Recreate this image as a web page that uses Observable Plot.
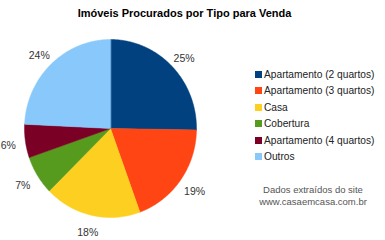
<!DOCTYPE html>
<html><head><meta charset="utf-8">
<script src="https://cdn.jsdelivr.net/npm/d3@7"></script>
<script src="https://cdn.jsdelivr.net/npm/@observablehq/plot@0.6"></script>
<style>
body{margin:0;background:#fff;font-family:"Liberation Sans",Arial,sans-serif;}
#wrap{position:relative;width:385px;height:240px;overflow:hidden;}
#title{height:26px;line-height:26px;text-align:center;font-weight:bold;font-size:11px;color:#000;padding-right:16px;}
.leg{position:absolute;left:255px;font-size:10.2px;color:#222;white-space:nowrap;}
.leg span{display:inline-block;width:7px;height:7px;margin-right:2px;vertical-align:0px;}
#cap{position:absolute;left:243px;width:140px;top:184px;text-align:center;font-size:9.5px;color:#555;line-height:12px;}
</style></head>
<body><div id="wrap"><div id="title">Imóveis Procurados por Tipo para Venda</div><div id="chart"></div></div>
<script>
const categories = ["Apartamento (2 quartos)","Apartamento (3 quartos)","Casa","Cobertura","Apartamento (4 quartos)","Outros"];
const percents = [25, 19, 18, 7, 6, 24];
const colors = ["#02417f","#ff4513","#fdcf21","#569a1e","#7b0025","#88c8fb"];
const captionLines = ["Dados extraídos do site","www.casaemcasa.com.br"];

const table = categories.map((name,i)=>({name, value: percents[i]}));
const arcs = d3.pie().sort(null).value(d=>d.value)(table);
const poly = [];
const labels = [];
arcs.forEach(a=>{
  poly.push({name:a.data.name, x:0, y:0});
  const n = Math.max(2, Math.ceil((a.endAngle-a.startAngle)/0.01));
  for(let k=0;k<=n;k++){
    const t = a.startAngle + (a.endAngle-a.startAngle)*k/n;
    poly.push({name:a.data.name, x:Math.sin(t), y:-Math.cos(t)});
  }
  const m = (a.startAngle+a.endAngle)/2;
  labels.push({name:a.data.name, x:1.2*Math.sin(m), y:-1.17*Math.cos(m)+0.03, text:a.data.value+"%"});
});

const cx = 110, cy = 102, rx = 86, ry = 89;
const chart = Plot.plot({
  width: 385, height: 214,
  margin: 0,
  x: {domain:[-1,1], range:[cx-rx, cx+rx], axis:null},
  y: {domain:[-1,1], range:[cy-ry, cy+ry], axis:null},
  color: {type:"ordinal", domain: categories, range: colors},
  marks: [
    Plot.line(poly, {x:"x", y:"y", z:"name", fill:"name", stroke:"name", strokeWidth:0.5, curve:"linear-closed"}),
    Plot.text(labels, {x:"x", y:"y", text:"text", fill:"#333", fontSize:10.5, fontFamily:"Liberation Sans, Arial, sans-serif"})
  ]
});
document.getElementById("chart").appendChild(chart);

const wrap = document.getElementById("wrap");
categories.forEach((c,i)=>{
  const d = document.createElement("div");
  d.className = "leg";
  d.style.top = (69 + i*16.4) + "px";
  d.innerHTML = `<span style="background:${colors[i]}"></span>${c}`;
  wrap.appendChild(d);
});
const cap = document.createElement("div");
cap.id = "cap";
cap.innerHTML = captionLines.join("<br>");
wrap.appendChild(cap);
</script></body></html>
